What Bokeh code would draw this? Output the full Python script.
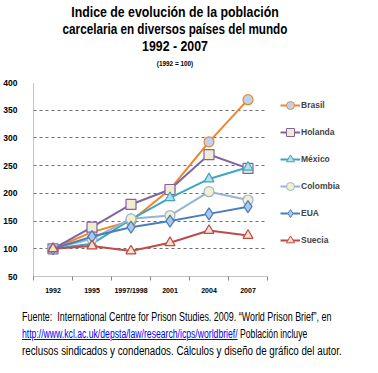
from bokeh.plotting import figure
from bokeh.models import Legend, LegendItem, FixedTicker, Div
from bokeh.layouts import column, row
from bokeh.embed import file_html
from bokeh.resources import INLINE

categories = ["1992", "1995", "1997/1998", "2001", "2004", "2007"]
brasil   = [100, 130, 150, 207, 293, 369]
holanda  = [100, 139, 180, 207, 270, 245]
mexico   = [100, 109, 153, 192, 226, 247]
colombia = [100, 118, 154, 160, 203, 188]
eua      = [100, 122, 139, 150, 163, 176]
suecia   = [100, 105, 96, 111, 133, 124]
names = ["Brasil", "Holanda", "México", "Colombia", "EUA", "Suecia"]
y_ticks = [50, 100, 150, 200, 250, 300, 350, 400]
title_lines = ["Indice de evolución de la población",
               "carcelaria en diversos países del mundo",
               "1992 - 2007", "(1992 = 100)"]
source_text = ["Fuente:&nbsp; International Centre for Prison Studies. 2009. \u201cWorld Prison Brief\u201d, en",
               "http://www.kcl.ac.uk/depsta/law/research/icps/worldbrief/",
               " Población incluye",
               "reclusos sindicados y condenados. Cálculos y diseño de gráfico del autor."]

FONT = "Liberation Sans"
CSSFONT = "font-family:\"Liberation Sans\",Arial,sans-serif;"

def tline(txt, size, scale):
    return (f"<div style='{CSSFONT}font-weight:bold;text-align:center;width:350px;"
            f"line-height:17px;height:17px;font-size:{size}px;white-space:nowrap;color:black;"
            f"transform:scaleX({scale});transform-origin:175px 0;'>{txt}</div>")

title_div = Div(
    text=("<div style='width:360px;overflow:hidden;padding-top:4px;'>"
          + tline(title_lines[0], 14, 0.88)
          + tline(title_lines[1], 14, 0.835)
          + tline(title_lines[2], 14, 0.88)
          + tline(title_lines[3], 8, 0.8)
          + "</div>"),
    width=370, height=72, margin=0)

p = figure(width=272, height=228, output_backend="svg", toolbar_location=None,
           x_range=(-0.5, 5.5), y_range=(50, 400),
           min_border_left=32, min_border_top=10, min_border_right=5,
           min_border_bottom=24, outline_line_color=None, margin=0)

x = list(range(len(categories)))
series = [
    (brasil,   "#F0852D", "circle",   "#B9D3F0"),
    (holanda,  "#8064A2", "square",   "#F3EAD2"),
    (mexico,   "#3BA7C0", "triangle", "#B9DCEB"),
    (colombia, "#95B3D7", "circle",   "#F6F0C8"),
    (eua,      "#4A7EBB", "diamond",  "#A9C8F0"),
    (suecia,   "#BE4B48", "triangle", "#F3E3CC"),
]
for vals, col, mk, fill in series:
    p.line(x, vals, line_color=col, line_width=2)
    p.scatter(x, vals, marker=mk, size=10 if mk != "diamond" else 12,
              line_color=col, fill_color=fill, line_width=1.2)

p.xaxis.ticker = FixedTicker(ticks=x, minor_ticks=[i - 0.5 for i in range(len(categories) + 1)])
p.xaxis.major_label_overrides = {i: c for i, c in enumerate(categories)}
p.xaxis.major_tick_line_color = None
p.xaxis.minor_tick_out = 4
p.xaxis.minor_tick_in = 0
p.xaxis.minor_tick_line_color = "#868686"
p.yaxis.ticker = FixedTicker(ticks=y_ticks)
p.yaxis.major_tick_line_color = None
p.yaxis.minor_tick_line_color = None
for ax in (p.xaxis[0], p.yaxis[0]):
    ax.axis_line_color = "#868686"
    ax.axis_line_dash = "1 1"
    ax.major_label_text_font = FONT
    ax.major_label_text_font_style = "bold"
    ax.major_label_text_color = "black"
p.xaxis.major_label_text_font_size = "7px"
p.yaxis.major_label_text_font_size = "8.5px"
p.xaxis.major_label_standoff = 4
p.yaxis.major_label_standoff = 10

p.xgrid.grid_line_color = None
p.ygrid.ticker = FixedTicker(ticks=y_ticks[1:])
p.ygrid.grid_line_color = "#6E6E6E"
p.ygrid.grid_line_dash = "3 3"

# legend panel: same series drawn outside the visible ranges, only the legend shows
LH = 228
pl = figure(width=100, height=LH, output_backend="svg", toolbar_location=None,
            x_axis_location=None, y_axis_location=None, outline_line_color=None,
            min_border=0, margin=0, x_range=(-20, -19), y_range=(-20, -19))
pl.xgrid.grid_line_color = None
pl.ygrid.grid_line_color = None
items = []
for (vals, col, mk, fill), nm in zip(series, names):
    ln = pl.line(x, vals, line_color=col, line_width=2)
    sc = pl.scatter(x, vals, marker=mk, size=8 if mk != "diamond" else 10,
                    line_color=col, fill_color=fill, line_width=1)
    items.append(LegendItem(label=nm, renderers=[ln, sc]))
n = len(items)
leg_h = n * 20 + (n - 1) * 7
legend = Legend(items=items, location=(8, LH - 47 - leg_h), label_text_font=FONT,
                label_text_font_style="bold", label_text_font_size="8.5px",
                glyph_width=20, glyph_height=20, label_height=20, spacing=7,
                label_standoff=1, padding=0, margin=0, border_line_color=None,
                background_fill_alpha=0)
pl.add_layout(legend)

def fline(html, scale):
    return (f"<div style='{CSSFONT}font-size:12px;line-height:17px;height:17px;color:black;"
            f"white-space:nowrap;width:480px;transform:scaleX({scale});transform-origin:0 0;'>"
            f"{html}</div>")

foot_div = Div(
    text=("<div style='width:370px;overflow:hidden;padding-top:9px;padding-left:22px;box-sizing:border-box;'>"
          + fline(source_text[0], 0.745)
          + fline(f"<a href='{source_text[1]}' style='color:#0000FF;text-decoration:underline;'>"
                  f"{source_text[1]}</a>{source_text[2]}", 0.72)
          + fline(source_text[3], 0.815)
          + "</div>"),
    width=370, height=62, margin=0)

layout = column(title_div, row(p, pl, spacing=0), foot_div, spacing=0)
open("out.html", "w").write(file_html(layout, INLINE))
